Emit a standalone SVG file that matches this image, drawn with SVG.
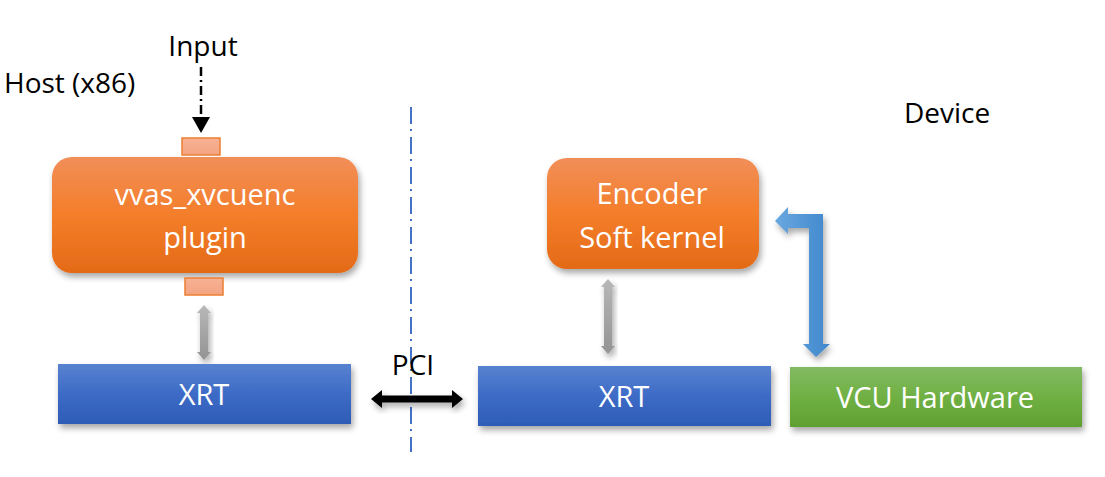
<svg xmlns="http://www.w3.org/2000/svg" width="1105" height="477" viewBox="0 0 1105 477">
<style>
.lbl{font-family:"Open Sans","Liberation Sans",sans-serif;font-size:28px;fill:#000}
.wt{font-family:"Open Sans","Liberation Sans",sans-serif;font-size:29px;fill:#fff;text-anchor:middle}
.port{fill:url(#gPort);stroke:#ED7D31;stroke-width:1.5}
</style>
<defs>
<linearGradient id="gOr" x1="0" y1="0" x2="0" y2="1"><stop offset="0" stop-color="#F18E58"/><stop offset="0.5" stop-color="#F47E2A"/><stop offset="1" stop-color="#E46A17"/></linearGradient>
<linearGradient id="gBl" x1="0" y1="0" x2="0" y2="1"><stop offset="0" stop-color="#5882D0"/><stop offset="0.5" stop-color="#3D6BC6"/><stop offset="1" stop-color="#2E5CB6"/></linearGradient>
<linearGradient id="gGr" x1="0" y1="0" x2="0" y2="1"><stop offset="0" stop-color="#82BA62"/><stop offset="0.5" stop-color="#70B043"/><stop offset="1" stop-color="#60A032"/></linearGradient>
<linearGradient id="gPort" x1="0" y1="0" x2="0" y2="1"><stop offset="0" stop-color="#F6B194"/><stop offset="1" stop-color="#F4A482"/></linearGradient>
<linearGradient id="gGray" x1="0" y1="0" x2="0" y2="1"><stop offset="0" stop-color="#B8B8B8"/><stop offset="1" stop-color="#939393"/></linearGradient>
<linearGradient id="gBA" x1="0" y1="0" x2="1" y2="0"><stop offset="0" stop-color="#6AA8E0"/><stop offset="1" stop-color="#3F87CC"/></linearGradient>
<filter id="sh" x="-10%" y="-20%" width="125%" height="150%"><feDropShadow dx="2" dy="4" stdDeviation="3" flood-color="#000" flood-opacity="0.35"/></filter>
</defs>
<text class="lbl" x="4" y="93">Host (x86)</text>
<text class="lbl" x="904" y="123">Device</text>
<g id="connectors">
<line x1="411" y1="107" x2="411" y2="452" stroke="#4472C4" stroke-width="2" stroke-dasharray="17 5 2 6"/>
<line x1="201" y1="67" x2="201" y2="118" stroke="#000" stroke-width="2.5" stroke-dasharray="9 4 2 4"/>
<polygon points="192,117 210,117 201,133" fill="#000"/>
<polygon points="204,305 211,313 208,313 208,352 211,352 204,360 197,352 200,352 200,313 197,313" fill="url(#gGray)" filter="url(#sh)"/>
<polygon points="608,279 615,287 612,287 612,346 615,346 608,354 601,346 604,346 604,287 601,287" fill="url(#gGray)" filter="url(#sh)"/>
<polygon points="371,399 382,390 382,395.5 452,395.5 452,390 463,399 452,408 452,402.5 382,402.5 382,408" fill="#000" filter="url(#sh)"/>
<polygon points="775,221 788,207 788,214 823,214 823,344 830,344 816,357 803,344 809,344 809,228 788,228 788,234" fill="url(#gBA)" filter="url(#sh)"/>
<text class="lbl" x="413" y="375" text-anchor="middle">PCI</text>
</g>
<g id="input"><text class="lbl" x="203" y="56" text-anchor="middle">Input</text></g>
<g id="plugin">
<rect x="52" y="157" width="306" height="116" rx="20" fill="url(#gOr)" filter="url(#sh)"/>
<text class="wt" x="205" y="205">vvas_xvcuenc</text>
<text class="wt" x="205" y="248">plugin</text>
<rect class="port" x="182" y="138" width="38" height="17"/>
<rect class="port" x="185" y="278" width="38" height="17"/>
</g>
<g id="xrt-host">
<rect x="58" y="364" width="293" height="60" fill="url(#gBl)" filter="url(#sh)"/>
<text class="wt" x="204" y="405">XRT</text>
</g>
<g id="encoder">
<rect x="547" y="158" width="212" height="111" rx="20" fill="url(#gOr)" filter="url(#sh)"/>
<text class="wt" x="652" y="204">Encoder</text>
<text class="wt" x="652" y="248">Soft kernel</text>
</g>
<g id="xrt-device">
<rect x="478" y="366" width="293" height="60" fill="url(#gBl)" filter="url(#sh)"/>
<text class="wt" x="624" y="407">XRT</text>
</g>
<g id="vcu">
<rect x="790" y="367" width="292" height="60" fill="url(#gGr)" filter="url(#sh)"/>
<text class="wt" x="935" y="408">VCU Hardware</text>
</g>
</svg>
